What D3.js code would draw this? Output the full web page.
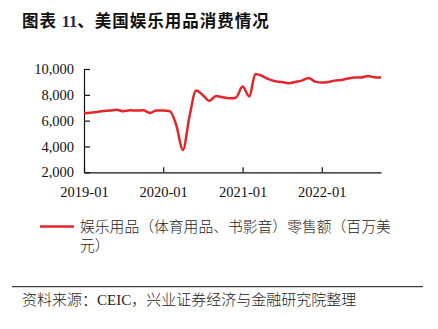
<!DOCTYPE html>
<html>
<head>
<meta charset="utf-8">
<script src="https://cdn.jsdelivr.net/npm/d3@7"></script>
<style>
  html, body { margin: 0; padding: 0; background: #fff; }
  svg { display: block; }
</style>
</head>
<body>
<svg id="chart" width="438" height="329"></svg>
<script>
// Monthly US retail sales of recreational goods (million USD), 2019-01 .. 2022-10
const months = [
  "2019-01","2019-02","2019-03","2019-04","2019-05","2019-06","2019-07","2019-08","2019-09","2019-10","2019-11","2019-12",
  "2020-01","2020-02","2020-03","2020-04","2020-05","2020-06","2020-07","2020-08","2020-09","2020-10","2020-11","2020-12",
  "2021-01","2021-02","2021-03","2021-04","2021-05","2021-06","2021-07","2021-08","2021-09","2021-10","2021-11","2021-12",
  "2022-01","2022-02","2022-03","2022-04","2022-05","2022-06","2022-07","2022-08","2022-09","2022-10"
];
const sales = [
  6570, 6620, 6670, 6750, 6780, 6850, 6730, 6800, 6780, 6800, 6600, 6780,
  6780, 6730, 5670, 3730, 6310, 8330, 7990, 7530, 7910, 7810, 7740, 7780,
  8640, 7870, 9620, 9460, 9210, 9050, 9000, 8900, 9000, 9100, 9310, 9020,
  8950, 8990, 9100, 9150, 9260, 9340, 9340, 9460, 9360, 9340
];
const yTicks = [2000, 4000, 6000, 8000, 10000];
const xTicks = ["2019-01", "2020-01", "2021-01", "2022-01"];
const seriesName = "娱乐用品（体育用品、书影音）零售额（百万美元）";
const titleParts = ["图表 ", "11", "、美国娱乐用品消费情况"];
const sourceParts = ["资料来源：", "CEIC", "，兴业证券经济与金融研究院整理"];

const parse = d3.timeParse("%Y-%m");
const data = months.map((m, i) => ({ date: parse(m), value: sales[i] }));

const svg = d3.select("#chart");
const serif = "'Liberation Serif', 'Times New Roman', serif";
const cjk = "'Noto Sans CJK SC', sans-serif";

const x = d3.scaleTime()
  .domain([parse(months[0]), parse(months[months.length - 1])])
  .range([84, 381]);
const y = d3.scaleLinear().domain([2000, 10000]).range([172.3, 69]);

// Title
const title = svg.append("text")
  .attr("x", 22).attr("y", 27)
  .attr("font-family", cjk).attr("font-weight", 700)
  .attr("font-size", 16.5).attr("letter-spacing", 1).attr("fill", "#111");
title.append("tspan").text(titleParts[0]);
title.append("tspan").attr("font-family", serif).attr("letter-spacing", 0).attr("fill", "#1d2a4f").text(titleParts[1]);
title.append("tspan").text(titleParts[2]);

// Axes
const yAxis = d3.axisLeft(y).tickValues(yTicks).tickSizeInner(-6).tickSizeOuter(0)
  .tickPadding(10).tickFormat(d3.format(","));
const xAxis = d3.axisBottom(x).tickValues(xTicks.map(parse)).tickSizeInner(-5).tickSizeOuter(0)
  .tickPadding(14).tickFormat(d3.timeFormat("%Y-%m"));

const gy = svg.append("g").attr("transform", "translate(84,0)").call(yAxis);
const gx = svg.append("g").attr("transform", "translate(0,172.3)").call(xAxis);
[gx, gy].forEach(g => {
  g.selectAll("path, line").attr("stroke", "#111").attr("stroke-width", 1.2);
  g.selectAll("text").attr("font-family", serif).attr("font-size", 14.5).attr("fill", "#111");
});

// Series line
svg.append("path")
  .datum(data)
  .attr("fill", "none")
  .attr("stroke", "#e3262b")
  .attr("stroke-width", 2.5)
  .attr("stroke-linejoin", "round")
  .attr("d", d3.line().x(d => x(d.date)).y(d => y(d.value)).curve(d3.curveMonotoneX));

// Legend
svg.append("line")
  .attr("x1", 40).attr("x2", 74).attr("y1", 226.5).attr("y2", 226.5)
  .attr("stroke", "#e3262b").attr("stroke-width", 2.5);
const legendLines = [seriesName.slice(0, 21), seriesName.slice(21)];
svg.selectAll("text.legend").data(legendLines).join("text")
  .attr("class", "legend")
  .attr("x", 80).attr("y", (d, i) => 231.5 + i * 19)
  .attr("font-family", cjk).attr("font-weight", 300)
  .attr("font-size", 14.8).attr("fill", "#222")
  .text(d => d);

// Source note
svg.append("line")
  .attr("x1", 12).attr("x2", 423).attr("y1", 286.7).attr("y2", 286.7)
  .attr("stroke", "#111").attr("stroke-width", 1);
const src = svg.append("text")
  .attr("x", 22).attr("y", 305)
  .attr("font-family", cjk).attr("font-weight", 300)
  .attr("font-size", 15).attr("fill", "#222");
src.append("tspan").text(sourceParts[0]);
src.append("tspan").attr("font-family", serif).attr("font-weight", 400).text(sourceParts[1]);
src.append("tspan").text(sourceParts[2]);
</script>
</body>
</html>
